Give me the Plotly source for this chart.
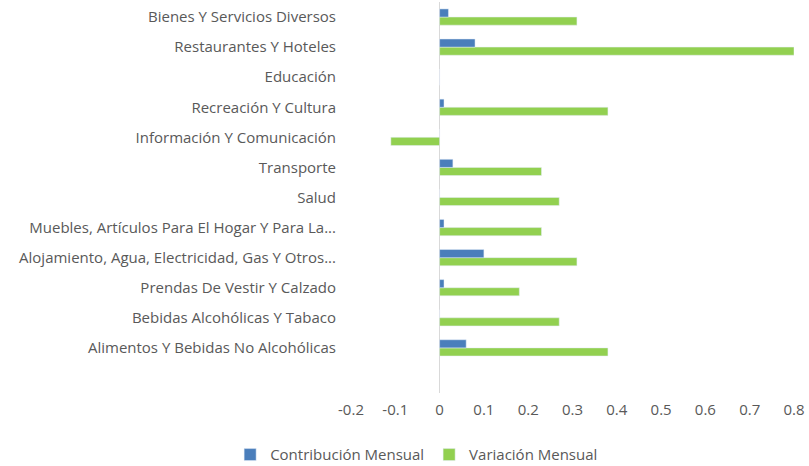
import plotly.graph_objects as go

categories = [
    "Alimentos Y Bebidas No Alcohólicas",
    "Bebidas Alcohólicas Y Tabaco",
    "Prendas De Vestir Y Calzado",
    "Alojamiento, Agua, Electricidad, Gas Y Otros...",
    "Muebles, Artículos Para El Hogar Y Para La...",
    "Salud",
    "Transporte",
    "Información Y Comunicación",
    "Recreación Y Cultura",
    "Educación",
    "Restaurantes Y Hoteles",
    "Bienes Y Servicios Diversos",
]
contribucion = [0.06, 0.0, 0.01, 0.10, 0.01, 0.0, 0.03, 0.0, 0.01, 0.0, 0.08, 0.02]
variacion = [0.38, 0.27, 0.18, 0.31, 0.23, 0.27, 0.23, -0.11, 0.38, 0.0, 0.80, 0.31]
x_ticks = [-0.2, -0.1, 0, 0.1, 0.2, 0.3, 0.4, 0.5, 0.6, 0.7, 0.8]
x_tick_labels = ["-0.2", "-0.1", "0", "0.1", "0.2", "0.3", "0.4", "0.5", "0.6", "0.7", "0.8"]

FONT = "Open Sans, Lato, sans-serif"
GRAY = "#595959"

fig = go.Figure()
fig.add_trace(go.Bar(
    y=categories, x=variacion, orientation="h", name="Variación Mensual",
    marker=dict(color="#92D050"), legendrank=2,
))
fig.add_trace(go.Bar(
    y=categories, x=contribucion, orientation="h", name="Contribución Mensual",
    marker=dict(color="#4A7EBB"), legendrank=1,
))

fig.update_layout(
    width=809, height=466,
    margin=dict(l=351, r=15, t=2, b=73, autoexpand=False),
    paper_bgcolor="white", plot_bgcolor="white",
    barmode="group", bargap=0.46, bargroupgap=0,
    font=dict(family=FONT, size=15, color=GRAY),
    showlegend=True,
    legend=dict(orientation="h", x=0.515, xanchor="center", xref="container",
                y=0.024, yanchor="middle", yref="container",
                font=dict(family=FONT, size=15, color=GRAY),
                traceorder="normal"),
)
fig.update_xaxes(
    range=[-0.2, 0.8], tickvals=x_ticks, ticktext=x_tick_labels,
    showgrid=False, zeroline=True, zerolinecolor="#D9D9D9", zerolinewidth=1,
    showline=False, ticks="", ticklabelstandoff=6, automargin=False,
    tickfont=dict(family=FONT, size=15, color=GRAY),
)
fig.update_yaxes(
    type="category", categoryorder="array", categoryarray=categories,
    range=[-1.5, 11.5], showgrid=False, showline=False, ticks="",
    ticklabelstandoff=14, automargin=False,
    tickfont=dict(family=FONT, size=15, color=GRAY),
)

fig.write_html("out.html", config={"displayModeBar": False},
               post_script="document.body.style.margin='0';")
